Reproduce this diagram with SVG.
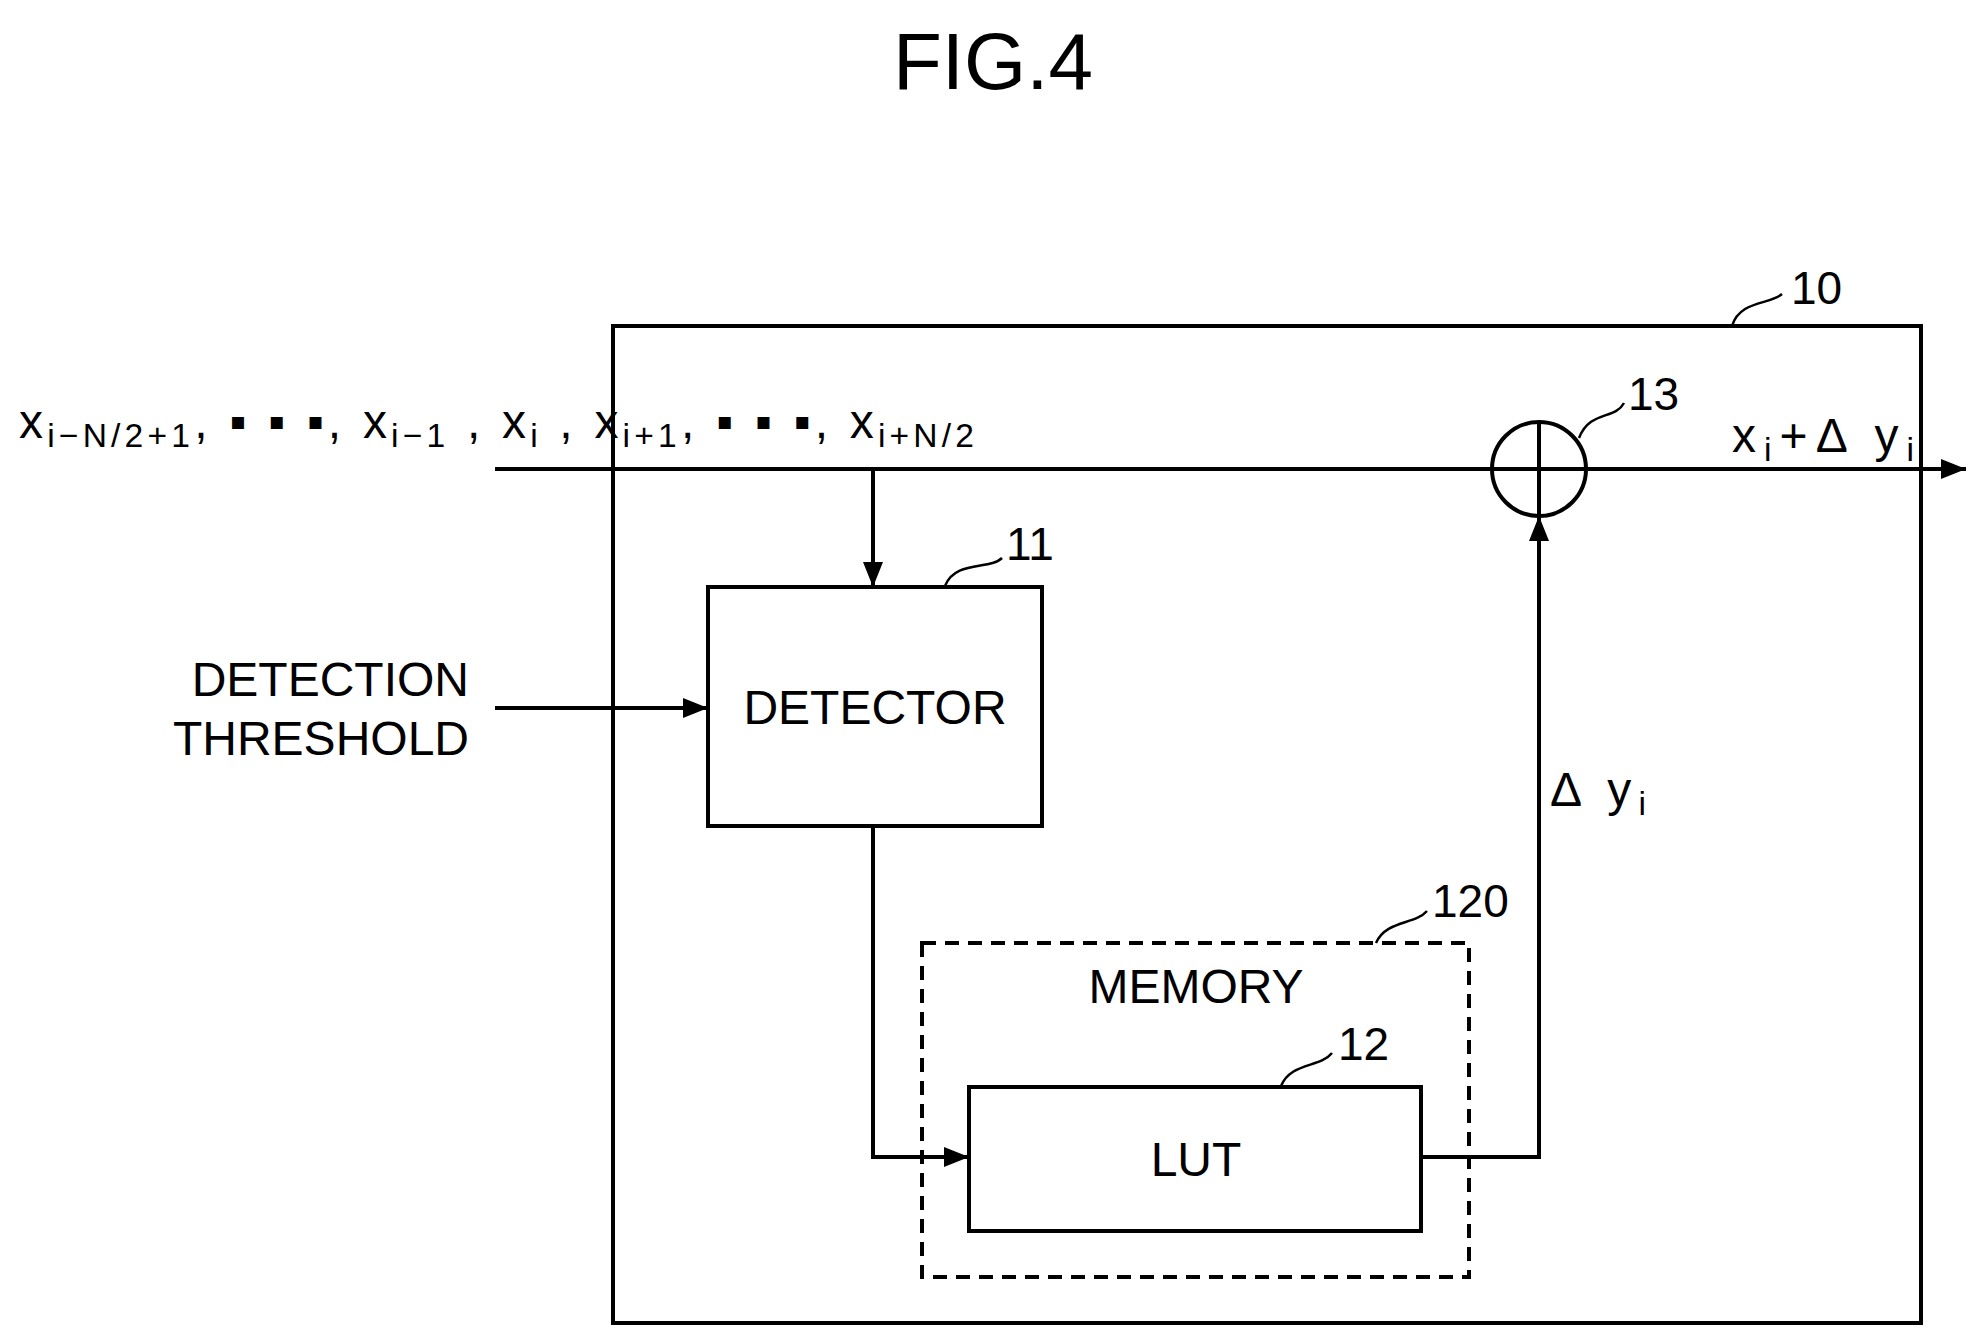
<svg xmlns="http://www.w3.org/2000/svg" width="1979" height="1340" viewBox="0 0 1979 1340">
<style>
.l{stroke:#000;stroke-width:4;fill:none}
.t{font-family:"Liberation Sans",Arial,sans-serif;font-size:48px;fill:#000}
.s{font-size:0.7em}
.n{font-family:"Liberation Sans",Arial,sans-serif;font-size:46px;fill:#000}
</style>
<defs>
<marker id="b" viewBox="0 0 10 8" refX="10" refY="4" markerWidth="26" markerHeight="20" orient="auto" markerUnits="userSpaceOnUse"><path d="M0,0L10,4L0,8z" fill="#000"/></marker></defs>
<text x="993" y="89" text-anchor="middle" font-family="Liberation Sans,Arial,sans-serif" font-size="80">FIG.4</text>
<g id="n10"><rect x="613" y="326" width="1308" height="997" class="l"/><path class="l" style="stroke-width:2.5" d="M1732,326C1740,300 1770,305 1782,294"/><text class="n" x="1791" y="304">10</text></g>
<g id="n13"><circle cx="1539" cy="469" r="47" class="l"/><line class="l" x1="1539" y1="422" x2="1539" y2="516"/><path class="l" style="stroke-width:2.5" d="M1579,438C1590,410 1615,420 1624,403"/><text class="n" x="1628" y="410">13</text></g>
<g id="n11"><rect x="708" y="587" width="334" height="239" class="l"/><text class="t" x="875" y="724" text-anchor="middle">DETECTOR</text><path class="l" style="stroke-width:2.5" d="M945,586C955,560 990,570 1002,558"/><text class="n" x="1006" y="560">11</text></g>
<g id="n120"><rect x="922" y="943" width="547" height="334" class="l" stroke-dasharray="14,9"/><text class="t" x="1196" y="1003" text-anchor="middle">MEMORY</text><path class="l" style="stroke-width:2.5" d="M1376,943C1386,920 1415,925 1427,911"/><text class="n" x="1432" y="917">120</text></g>
<g id="n12"><rect x="969" y="1087" width="452" height="144" class="l"/><text class="t" x="1196" y="1176" text-anchor="middle">LUT</text><path class="l" style="stroke-width:2.5" d="M1281,1086C1291,1062 1320,1068 1332,1053"/><text class="n" x="1338" y="1060">12</text></g>
<g id="labels">
<text class="t" x="19" y="438" font-size="56" textLength="955">x<tspan class="s" dy="9">i−N/2+1</tspan><tspan dy="-9">, ▪ ▪ ▪, x</tspan><tspan class="s" dy="9">i−1</tspan><tspan dy="-9"> , x</tspan><tspan class="s" dy="9">i</tspan><tspan dy="-9"> , x</tspan><tspan class="s" dy="9">i+1</tspan><tspan dy="-9">, ▪ ▪ ▪, x</tspan><tspan class="s" dy="9">i+N/2</tspan></text>
<text class="t" x="469" y="696" text-anchor="end">DETECTION</text>
<text class="t" x="469" y="755" text-anchor="end">THRESHOLD</text>
<text class="t" x="1732" y="452" font-size="60" textLength="182">x<tspan class="s" dy="9">i</tspan><tspan dy="-9">+Δ y</tspan><tspan class="s" dy="9">i</tspan></text>
<text class="t" x="1550" y="806" font-size="58" textLength="96">Δ y<tspan class="s" dy="9">i</tspan></text>
</g>
<g id="connectors">
<line class="l" x1="495" y1="469" x2="1966" y2="469" marker-end="url(#b)"/>
<line class="l" x1="873" y1="469" x2="873" y2="587" marker-end="url(#b)"/>
<line class="l" x1="495" y1="708" x2="708" y2="708" marker-end="url(#b)"/>
<polyline class="l" points="873,826 873,1157 969,1157" marker-end="url(#b)"/>
<polyline class="l" points="1421,1157 1539,1157 1539,516" marker-end="url(#b)"/>
</g>
</svg>
